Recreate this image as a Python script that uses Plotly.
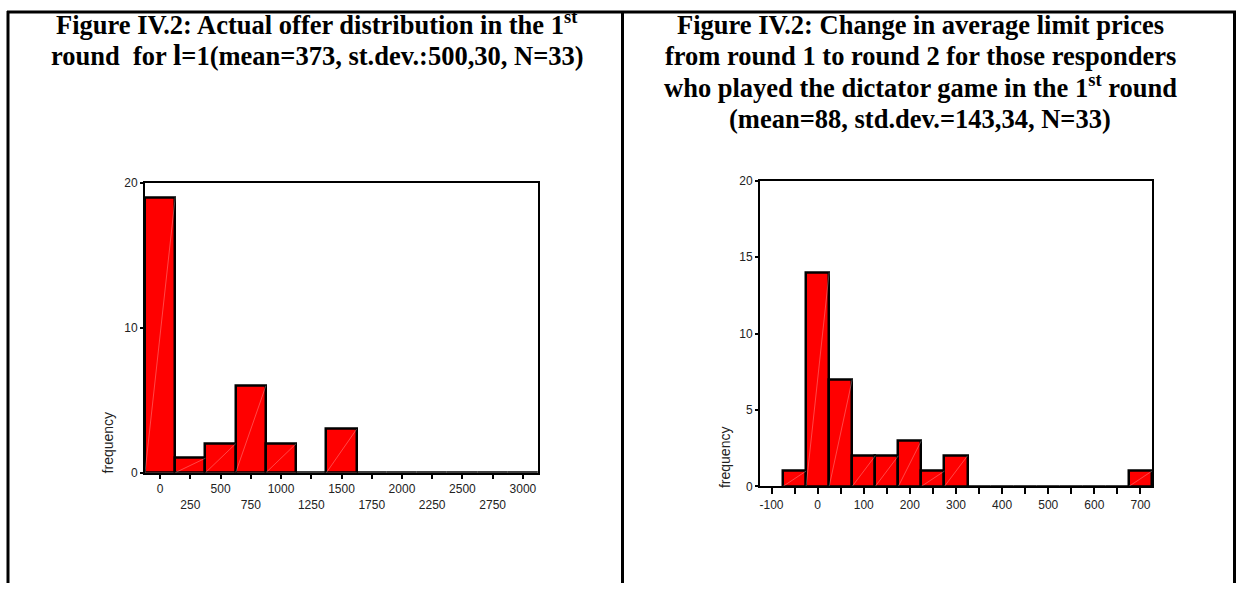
import plotly.graph_objects as go

# ---- data -------------------------------------------------------------
# Left panel: offers in round 1 (bins of width 250)
offer_bins = [0, 250, 500, 750, 1000, 1250, 1500, 1750, 2000, 2250, 2500, 2750, 3000]
offer_counts = [19, 1, 2, 6, 2, 0, 3, 0, 0, 0, 0, 0, 0]
offer_width = 250
offer_ticks = [0, 250, 500, 750, 1000, 1250, 1500, 1750, 2000, 2250, 2500, 2750, 3000]
offer_labels = ["0", "<br>250", "500", "<br>750", "1000", "<br>1250", "1500",
                "<br>1750", "2000", "<br>2250", "2500", "<br>2750", "3000"]
offer_yticks = [0, 10, 20]

# Right panel: change in average limit prices (bins of width 50)
change_bins = [-50, 0, 50, 100, 150, 200, 250, 300, 350, 400, 450, 500, 550, 600, 650, 700]
change_counts = [1, 14, 7, 2, 2, 3, 1, 2, 0, 0, 0, 0, 0, 0, 0, 1]
change_width = 50
change_ticks = [-100, -50, 0, 50, 100, 150, 200, 250, 300, 350, 400, 450, 500, 550, 600, 650, 700]
change_labels = ["-100", "", "0", "", "100", "", "200", "", "300", "", "400", "", "500", "",
                 "600", "", "700"]
change_yticks = [0, 5, 10, 15, 20]

left_title = [
    "<b>Figure IV.2: Actual offer distribution in the 1<sup>st</sup></b>",
    "<b>round&nbsp;&nbsp;for <span style='font-size:30px'>l</span>=1(mean=373, st.dev.:500,30, N=33)</b>",
]
right_title = [
    "<b>Figure IV.2: Change in average limit prices</b>",
    "<b>from round 1 to round 2 for those responders</b>",
    "<b>who played the dictator game in the 1<sup>st</sup> round</b>",
    "<b>(mean=88, std.dev.=143,34, N=33)</b>",
]

# ---- layout constants (pixels) ---------------------------------------
W, H = 1236, 590
RED = "#ff0000"
TICK_FONT = dict(family="Liberation Sans, Arial", size=12, color="#222222")


def px_x(v):
    return v / W


def px_y(v):
    return 1 - v / H


def diagonals(bins, counts, width):
    xs, ys = [], []
    for c, n in zip(bins, counts):
        if n > 0:
            xs += [c - width / 2, c + width / 2, None]
            ys += [0, n, None]
    return xs, ys


fig = go.Figure()

# histogram bars
fig.add_trace(go.Bar(x=offer_bins, y=offer_counts, width=offer_width,
                     marker=dict(color=RED, line=dict(color="black", width=2.5)),
                     xaxis="x", yaxis="y", hoverinfo="x+y"))
fig.add_trace(go.Bar(x=change_bins, y=change_counts, width=change_width,
                     marker=dict(color=RED, line=dict(color="black", width=2.5)),
                     xaxis="x2", yaxis="y2", hoverinfo="x+y"))

# faint hatch diagonal inside each bar
dx, dy = diagonals(offer_bins, offer_counts, offer_width)
fig.add_trace(go.Scatter(x=dx, y=dy, mode="lines", xaxis="x", yaxis="y",
                         line=dict(color="rgba(255,255,255,0.4)", width=0.7),
                         hoverinfo="skip"))
dx, dy = diagonals(change_bins, change_counts, change_width)
fig.add_trace(go.Scatter(x=dx, y=dy, mode="lines", xaxis="x2", yaxis="y2",
                         line=dict(color="rgba(255,255,255,0.4)", width=0.7),
                         hoverinfo="skip"))

axis_style = dict(showline=True, linewidth=2, linecolor="black", mirror=True,
                  showgrid=False, zeroline=False, ticks="outside",
                  tickwidth=2, tickcolor="black", tickfont=TICK_FONT, fixedrange=True)

fig.update_layout(
    width=W, height=H,
    margin=dict(l=0, r=0, t=0, b=0),
    paper_bgcolor="white", plot_bgcolor="white",
    showlegend=False, bargap=0,
    xaxis=dict(domain=[px_x(145), px_x(538)], range=[-125, 3125], ticklen=4,
               tickvals=offer_ticks, ticktext=offer_labels, anchor="y", **axis_style),
    yaxis=dict(domain=[px_y(477), px_y(180)], range=[0, 20], ticklen=3,
               tickvals=offer_yticks, anchor="x", **axis_style),
    xaxis2=dict(domain=[px_x(760), px_x(1152)], range=[-125, 725], ticklen=6,
                tickvals=change_ticks, ticktext=change_labels, anchor="y2", **axis_style),
    yaxis2=dict(domain=[px_y(491), px_y(178)], range=[0, 20], ticklen=3,
                tickvals=change_yticks, anchor="x2", **axis_style),
)

annotations = []
TITLE_FONT = dict(family="Liberation Serif, Times New Roman", size=26.5, color="black")
PITCH = 32
for i, line in enumerate(left_title):
    annotations.append(dict(text=line, x=px_x(317), y=px_y(36 + i * PITCH), xref="paper",
                            yref="paper", xanchor="center", yanchor="bottom",
                            showarrow=False, font=TITLE_FONT))
for i, line in enumerate(right_title):
    annotations.append(dict(text=line, x=px_x(920), y=px_y(36 + i * PITCH), xref="paper",
                            yref="paper", xanchor="center", yanchor="bottom",
                            showarrow=False, font=TITLE_FONT))

# axis titles
for x, y in [(108, 447), (725, 462)]:
    annotations.append(dict(text="frequency", x=px_x(x), y=px_y(y), xref="paper",
                            yref="paper", xanchor="center", yanchor="middle",
                            textangle=-90, showarrow=False,
                            font=dict(family="Liberation Sans, Arial", size=14,
                                      color="#222222")))
fig.update_layout(annotations=annotations)

# table cell borders
border = dict(color="black", width=3)
fig.update_layout(shapes=[
    dict(type="line", xref="paper", yref="paper", x0=px_x(7), x1=1, y0=px_y(5), y1=px_y(5), line=border),
    dict(type="line", xref="paper", yref="paper", x0=px_x(8), x1=px_x(8), y0=0, y1=px_y(4), line=border),
    dict(type="line", xref="paper", yref="paper", x0=px_x(622.5), x1=px_x(622.5), y0=0, y1=px_y(4), line=border),
    dict(type="line", xref="paper", yref="paper", x0=px_x(1234.5), x1=px_x(1234.5), y0=0, y1=px_y(4), line=border),
])

fig.write_html("out.html")
